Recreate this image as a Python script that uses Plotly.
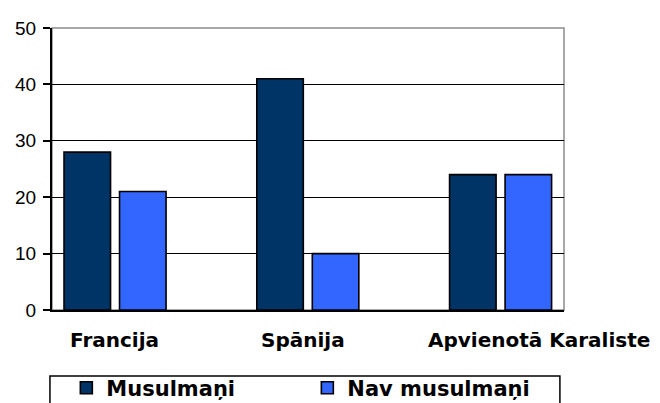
import plotly.graph_objects as go

categories = ["Francija", "Spānija", "Apvienotā Karaliste"]
series_names = ["Musulmaņi", "Nav musulmaņi"]
musulmani = [28, 41, 24]
nav_musulmani = [21, 10, 24]
y_ticks = [0, 10, 20, 30, 40, 50]

dark = "#003366"
blue = "#3366FF"

fig = go.Figure()
fig.add_trace(go.Bar(x=categories, y=musulmani, name=series_names[0],
                     marker=dict(color=dark, line=dict(color="black", width=1.6))))
fig.add_trace(go.Bar(x=categories, y=nav_musulmani, name=series_names[1],
                     marker=dict(color=blue, line=dict(color="black", width=1.6))))

# plot border (top/right gray) over gridlines, below bars
fig.add_shape(type="rect", xref="paper", yref="paper", x0=0, x1=1, y0=0, y1=1,
              line=dict(color="#8c8c8c", width=1.5), layer="between")

# legend frame
fig.add_shape(type="rect", xref="paper", yref="paper", x0=-0.004, x1=0.992,
              y0=-0.234, y1=-0.45, line=dict(color="black", width=1.5),
              fillcolor="rgba(0,0,0,0)", layer="above")

# category labels
label_shift = [-1, -5, 38]
for c, s in zip(categories, label_shift):
    fig.add_annotation(x=c, xref="x", y=-0.108, yref="paper", text=f"<b>{c}</b>",
                       showarrow=False, xshift=s, yanchor="middle",
                       font=dict(family="DejaVu Sans", size=20, color="black"))

fig.update_layout(
    width=652, height=395,
    margin=dict(l=44, r=96, t=20, b=93, autoexpand=False),
    paper_bgcolor="white", plot_bgcolor="white",
    barmode="group", bargap=0.424, bargroupgap=0.162,
    showlegend=True,
    legend=dict(orientation="h", x=0.028, xanchor="left", y=-0.204, yanchor="top",
                borderwidth=0, bgcolor="rgba(0,0,0,0)",
                font=dict(family="DejaVu Sans", size=21, color="black", weight="bold"),
                entrywidth=196, entrywidthmode="pixels", traceorder="normal"),
    xaxis=dict(range=[-0.327, 2.329], showticklabels=False, showgrid=False,
               showline=True, linecolor="black", linewidth=2, ticks="", zeroline=False),
    yaxis=dict(range=[0, 50], tickvals=y_ticks, showgrid=True, gridcolor="black",
               gridwidth=1.3, showline=True, linecolor="black", linewidth=2,
               ticks="outside", ticklen=7, tickcolor="black", tickwidth=1.5,
               zeroline=False, ticklabelstandoff=3,
               tickfont=dict(family="Liberation Sans", size=19, color="black")),
)

fig.write_html("out.html")
